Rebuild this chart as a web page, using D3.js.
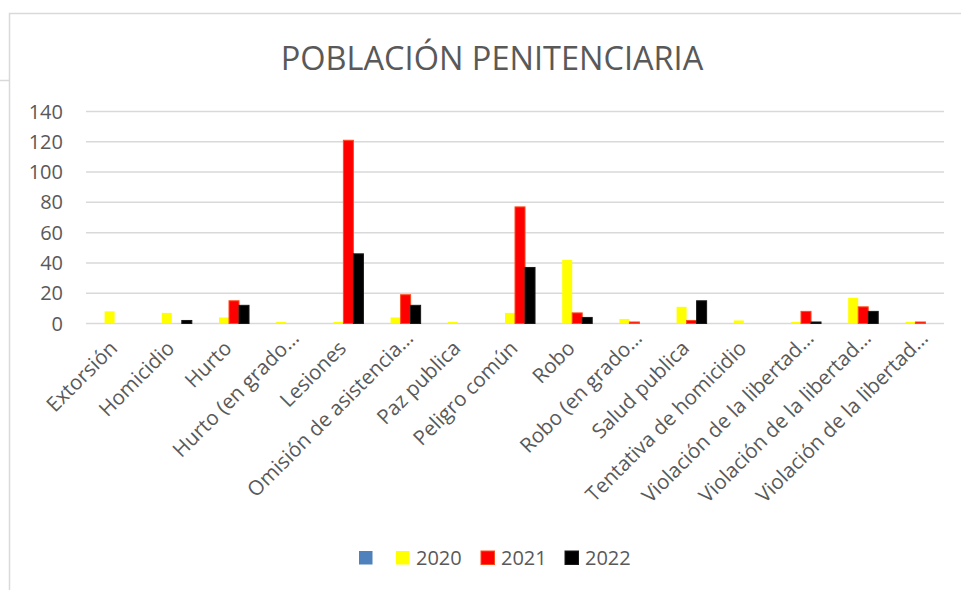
<!DOCTYPE html>
<html>
<head>
<meta charset="utf-8">
<script src="https://cdn.jsdelivr.net/npm/d3@7"></script>
<style>
  html, body { margin: 0; padding: 0; background: #fff; }
  svg { display: block; font-family: "Open Sans", sans-serif; }
</style>
</head>
<body>
<div id="chart"></div>
<script>
// categories as they appear (Excel truncates the long ones)
const categories = [
  'Extorsión', 'Homicidio', 'Hurto', 'Hurto (en grado…', 'Lesiones',
  'Omisión de asistencia…', 'Paz publica', 'Peligro común', 'Robo',
  'Robo (en grado…', 'Salud publica', 'Tentativa de homicidio',
  'Violación de la libertad…', 'Violación de la libertad…', 'Violación de la libertad…'
];
const seriesNames = ['', '2020', '2021', '2022'];
const valuesBlank = categories.map(() => 0);
const values2020 = [8, 7, 4, 1, 1, 4, 1, 7, 42, 3, 11, 2, 1, 17, 1];
const values2021 = [0, 0, 15, 0, 121, 19, 0, 77, 7, 1, 2, 0, 8, 11, 1];
const values2022 = [0, 2, 12, 0, 46, 12, 0, 37, 4, 0, 15, 0, 1, 8, 0];
const yTicks = [0, 20, 40, 60, 80, 100, 120, 140];

const seriesValues = [valuesBlank, values2020, values2021, values2022];
const fills = ['#4f81bd', '#ffff00', '#ff0000', '#000000'];
const strokes = ['none', 'none', '#ff4a1c', '#1a1a1a'];

const width = 961;
const height = 590;
const margin = { left: 86, right: 17, top: 111.5, bottom: 266.5 };
const textColor = '#595959';
const gridColor = '#d9d9d9';

const svg = d3.select('#chart').append('svg')
  .attr('width', width)
  .attr('height', height);

// chart frame (partly cut off in the screenshot)
svg.append('path')
  .attr('d', 'M9.5,590 V13.5 H961 M0,80.5 H9')
  .attr('fill', 'none')
  .attr('stroke', gridColor)
  .attr('stroke-width', 1.5);

svg.append('text')
  .text('POBLACIÓN PENITENCIARIA')
  .attr('x', 492)
  .attr('y', 70)
  .attr('text-anchor', 'middle')
  .attr('font-size', '32.5px')
  .attr('fill', textColor);

const x0 = d3.scaleBand()
  .domain(d3.range(categories.length))
  .range([margin.left, width - margin.right])
  .paddingInner(0.3)
  .paddingOuter(0.15);

const x1 = d3.scaleBand()
  .domain(d3.range(seriesNames.length))
  .range([0, x0.bandwidth()]);

const y = d3.scaleLinear()
  .domain([0, 140])
  .range([height - margin.bottom, margin.top]);

// gridlines
svg.append('g')
  .selectAll('line')
  .data(yTicks)
  .join('line')
  .attr('x1', margin.left)
  .attr('x2', width - margin.right)
  .attr('y1', d => y(d))
  .attr('y2', d => y(d))
  .attr('stroke', gridColor)
  .attr('stroke-width', 1.5);

// y labels
svg.append('g')
  .selectAll('text')
  .data(yTicks)
  .join('text')
  .text(d => d)
  .attr('x', 63)
  .attr('y', d => y(d))
  .attr('dy', '0.35em')
  .attr('text-anchor', 'end')
  .attr('font-size', '20px')
  .attr('fill', textColor);

// bars
const groups = svg.append('g')
  .selectAll('g')
  .data(categories.map((c, i) => i))
  .join('g')
  .attr('transform', i => `translate(${x0(i)},0)`);

groups.selectAll('rect')
  .data(i => seriesValues.map((vals, s) => ({ s, v: vals[i] })))
  .join('rect')
  .filter(d => d.v > 0)
  .attr('x', d => x1(d.s))
  .attr('y', d => y(d.v))
  .attr('width', x1.bandwidth())
  .attr('height', d => y(0) - y(d.v))
  .attr('fill', d => fills[d.s])
  .attr('stroke', d => strokes[d.s])
  .attr('stroke-width', 1);

// x labels, rotated; the truncated ones reach a bit further up-right
svg.append('g')
  .selectAll('text')
  .data(categories)
  .join('text')
  .text(d => d)
  .attr('text-anchor', 'end')
  .attr('font-size', '20.5px')
  .attr('fill', textColor)
  .attr('transform', (d, i) => {
    const shift = d.endsWith('…') ? 0 : 10;
    const cx = x0(i) + x0.bandwidth() / 2 + 14 - shift;
    return `translate(${cx},${y(0) + 16 + shift}) rotate(-45)`;
  });

// legend
const legendItems = [
  { s: 0, x: 359 },
  { s: 1, x: 396 },
  { s: 2, x: 481 },
  { s: 3, x: 565 }
];
const legend = svg.append('g')
  .selectAll('g')
  .data(legendItems)
  .join('g')
  .attr('transform', d => `translate(${d.x},551)`);

legend.append('rect')
  .attr('width', 13.5)
  .attr('height', 13.5)
  .attr('fill', d => fills[d.s])
  .attr('stroke', d => strokes[d.s]);

legend.append('text')
  .text(d => seriesNames[d.s])
  .attr('x', 20)
  .attr('y', 7)
  .attr('dy', '0.35em')
  .attr('font-size', '20px')
  .attr('fill', textColor);
</script>
</body>
</html>
